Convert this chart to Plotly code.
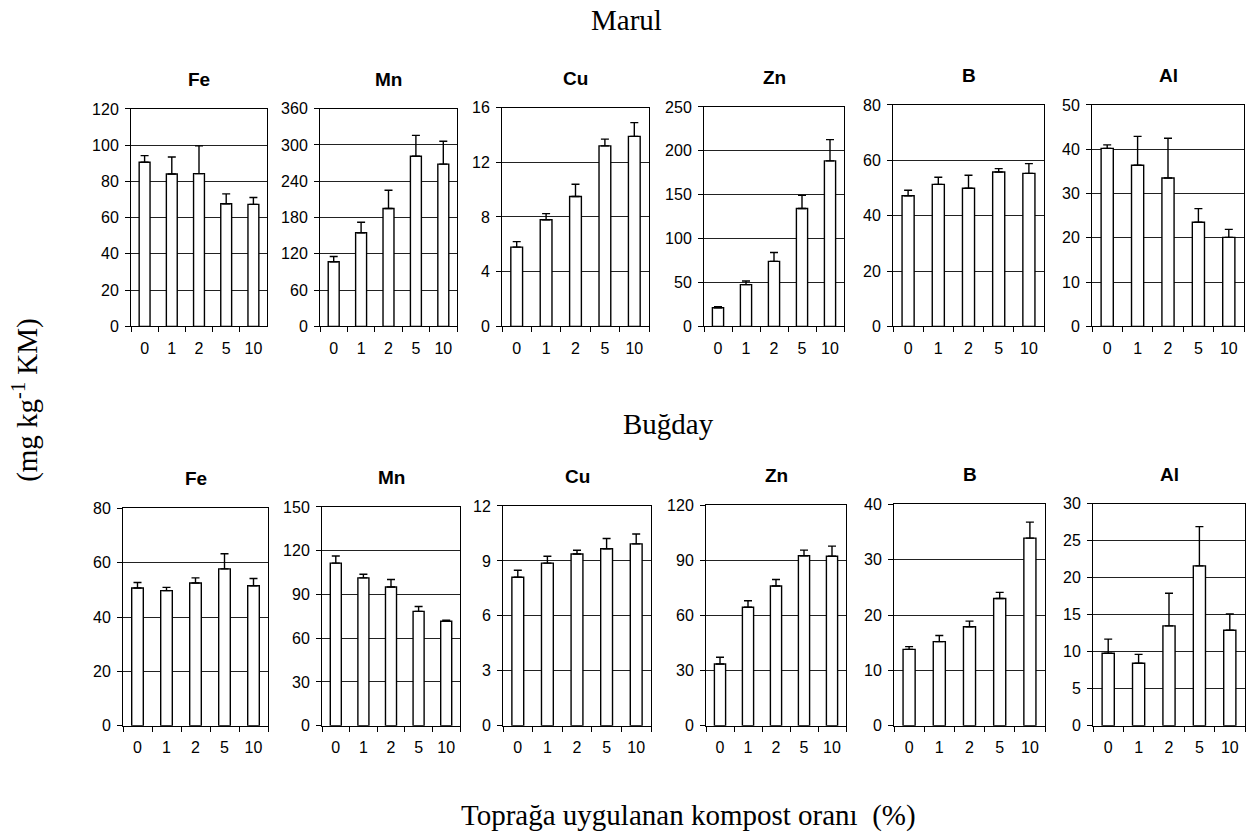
import plotly.graph_objects as go

# ---------------- data ----------------
doses = ["0", "1", "2", "5", "10"]
elements = ["Fe", "Mn", "Cu", "Zn", "B", "Al"]

marul_fe = [90.6, 84.1, 84.3, 67.7, 67.3]
marul_fe_err = [3.6, 9.4, 15.3, 5.4, 3.8]
marul_mn = [106.9, 154.9, 194.8, 281.2, 268.3]
marul_mn_err = [8.6, 17.3, 30.2, 34.5, 37.7]
marul_cu = [5.8, 7.8, 9.5, 13.2, 13.9]
marul_cu_err = [0.4, 0.45, 0.9, 0.5, 1.0]
marul_zn = [21.2, 47.6, 74.0, 134.3, 188.6]
marul_zn_err = [1.1, 4.1, 10.1, 14.9, 24.2]
marul_b = [47.2, 51.3, 49.9, 55.8, 55.3]
marul_b_err = [2.0, 2.6, 4.7, 1.2, 3.5]
marul_al = [40.2, 36.4, 33.5, 23.5, 20.1]
marul_al_err = [0.8, 6.5, 9.0, 3.1, 1.8]

bugday_fe = [50.7, 49.7, 52.5, 57.7, 51.5]
bugday_fe_err = [2.0, 1.2, 1.9, 5.6, 2.7]
bugday_mn = [111.5, 101.4, 95.1, 78.4, 71.6]
bugday_mn_err = [4.9, 2.5, 5.2, 3.3, 0.7]
bugday_cu = [8.11, 8.88, 9.38, 9.66, 9.93]
bugday_cu_err = [0.38, 0.37, 0.2, 0.56, 0.54]
bugday_zn = [33.6, 64.5, 76.1, 92.6, 92.3]
bugday_zn_err = [3.7, 3.6, 3.5, 3.0, 5.5]
bugday_b = [13.8, 15.2, 17.9, 23.0, 33.9]
bugday_b_err = [0.5, 1.1, 1.0, 1.1, 2.9]
bugday_al = [9.8, 8.45, 13.5, 21.6, 12.9]
bugday_al_err = [1.9, 1.2, 4.4, 5.3, 2.2]

# axis maxima / tick steps
marul_ymax = [120, 360, 16, 250, 80, 50]
marul_dtick = [20, 60, 4, 50, 20, 10]
bugday_ymax = [80, 150, 12, 120, 40, 30]
bugday_dtick = [20, 30, 3, 30, 10, 5]

row_title_top = "Marul"
row_title_bottom = "Buğday"
y_title = "(mg kg<sup>-1</sup> KM)"
x_title = "Toprağa uygulanan kompost oranı\u00a0\u00a0(%)"

marul_vals = [marul_fe, marul_mn, marul_cu, marul_zn, marul_b, marul_al]
marul_errs = [marul_fe_err, marul_mn_err, marul_cu_err, marul_zn_err, marul_b_err, marul_al_err]
bugday_vals = [bugday_fe, bugday_mn, bugday_cu, bugday_zn, bugday_b, bugday_al]
bugday_errs = [bugday_fe_err, bugday_mn_err, bugday_cu_err, bugday_zn_err, bugday_b_err, bugday_al_err]

# ---------------- layout geometry (pixels) ----------------
W, H = 1248, 834
top_boxes = [(131, 267, 103), (320, 457, 102.7), (502, 649, 101.7),
             (704, 844, 101), (893, 1044, 99), (1092, 1244, 99)]
top_bottom = 325
bot_boxes = [(123, 268, 510.7), (322, 460, 509.3), (503, 651, 508.3),
             (706, 846, 507.7), (894, 1045, 506.7), (1093, 1245, 506)]
bot_bottom = 732.7

SANS = "Liberation Sans, Arial, sans-serif"
SERIF = "Liberation Serif, Times New Roman, serif"

fig = go.Figure()
layout = dict(width=W, height=H, margin=dict(l=0, r=0, t=0, b=0),
              paper_bgcolor="white", plot_bgcolor="white",
              showlegend=False, bargap=0.6)
annotations = []

panels = []
for i in range(6):
    panels.append((top_boxes[i], top_bottom, marul_vals[i], marul_errs[i], marul_ymax[i], marul_dtick[i], elements[i]))
for i in range(6):
    panels.append((bot_boxes[i], bot_bottom, bugday_vals[i], bugday_errs[i], bugday_ymax[i], bugday_dtick[i], elements[i]))

for k, (box, bottom, vals, errs, ymax, dt, name) in enumerate(panels):
    n = k + 1
    xa = "x" if n == 1 else f"x{n}"
    ya = "y" if n == 1 else f"y{n}"
    left, right, top = box
    fig.add_trace(go.Bar(
        x=doses, y=vals, xaxis=xa, yaxis=ya,
        marker=dict(color="white", line=dict(color="black", width=1.4)),
        error_y=dict(type="data", array=errs, arrayminus=[0] * len(errs),
                     symmetric=False, color="black", thickness=1.4, width=4),
        hoverinfo="skip",
    ))
    xd = [left / W, right / W]
    yd = [1 - bottom / H, 1 - top / H]
    layout["xaxis" if n == 1 else f"xaxis{n}"] = dict(
        domain=xd, anchor=ya, type="category",
        showline=True, linecolor="black", linewidth=1, mirror=True,
        ticks="outside", tickson="boundaries", ticklen=5, tickcolor="black",
        ticklabelstandoff=7,
        showgrid=False, zeroline=False,
        tickfont=dict(family=SANS, size=16, color="black"),
    )
    layout["yaxis" if n == 1 else f"yaxis{n}"] = dict(
        domain=yd, anchor=xa, range=[0, ymax], tick0=0, dtick=dt,
        showline=True, linecolor="black", linewidth=1, mirror=True,
        ticks="outside", ticklen=5, tickcolor="black",
        ticklabelstandoff=3,
        showgrid=True, gridcolor="#222222", gridwidth=1, zeroline=False,
        tickfont=dict(family=SANS, size=16, color="black"),
    )
    annotations.append(dict(
        text=f"<b>{name}</b>", x=(left + right) / 2 / W, y=1 - (top - 30) / H,
        xref="paper", yref="paper", xanchor="center", yanchor="middle",
        showarrow=False, font=dict(family=SANS, size=19, color="black"),
    ))

annotations += [
    dict(text=row_title_top, x=626 / W, y=1 - 12 / H, xref="paper", yref="paper",
         xanchor="center", yanchor="middle", showarrow=False,
         font=dict(family=SERIF, size=29, color="black")),
    dict(text=row_title_bottom, x=668 / W, y=1 - 425 / H, xref="paper", yref="paper",
         xanchor="center", yanchor="middle", showarrow=False,
         font=dict(family=SERIF, size=29, color="black")),
    dict(text=x_title, x=688 / W, y=1 - 824 / H, xref="paper", yref="paper",
         xanchor="center", yanchor="middle", showarrow=False,
         font=dict(family=SERIF, size=29, color="black")),
    dict(text=y_title, x=26 / W, y=1 - 400 / H, xref="paper", yref="paper",
         xanchor="center", yanchor="middle", showarrow=False, textangle=-90,
         font=dict(family=SERIF, size=29, color="black")),
]
layout["annotations"] = annotations
fig.update_layout(**layout)
fig.write_html("out.html")
